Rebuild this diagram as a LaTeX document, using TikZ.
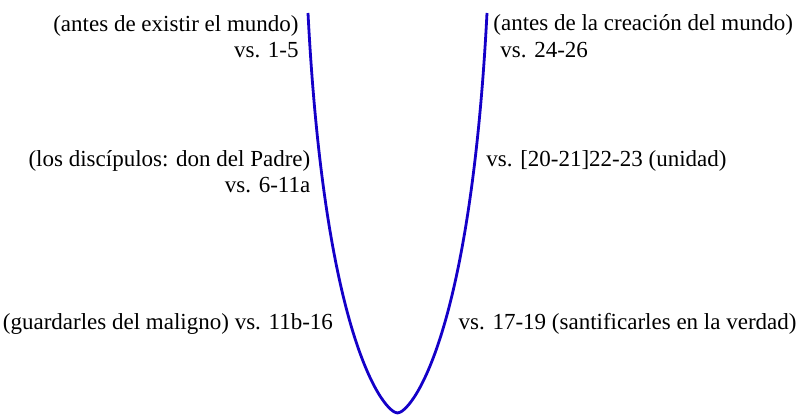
\documentclass[tikz,border=0pt]{standalone}
\usepackage{fontspec}
\setmainfont{Liberation Serif}
\usepackage{tikz}
\definecolor{arcblue}{RGB}{20,0,200}
\tikzset{
  txt/.style={inner sep=0pt,font=\fontsize{11.5}{13.25}\selectfont},
  arc/.style={draw=arcblue,line width=1.4pt}
}
\begin{document}
\begin{tikzpicture}[x=0.5pt,y=-0.5pt]
\useasboundingbox (0,0) rectangle (799,415);
\draw[arc] (308,13) .. controls (325,343) and (385,413) .. (397.5,413)
  .. controls (410,413) and (470,343) .. (487,13);
\node[txt,align=right,anchor=base east] (antes) at (299,58) {(antes de existir el mundo)\\vs. 1-5};
\node[txt,align=left,anchor=base west] (creacion) at (493,57.5) {(antes de la creación del mundo)\\\hspace*{3.5pt}vs. 24-26};
\node[txt,align=right,anchor=base east] (discipulos) at (310.7,192.7) {(los discípulos: don del Padre)\\vs. 6-11a};
\node[txt,anchor=base west] (unidad) at (486,166.7) {vs. [20-21]22-23 (unidad)};
\node[txt,anchor=base east] (maligno) at (333.3,330) {(guardarles del maligno) vs. 11b-16};
\node[txt,anchor=base west] (verdad) at (458.3,330) {vs. 17-19 (santificarles en la verdad)};
\end{tikzpicture}
\end{document}
